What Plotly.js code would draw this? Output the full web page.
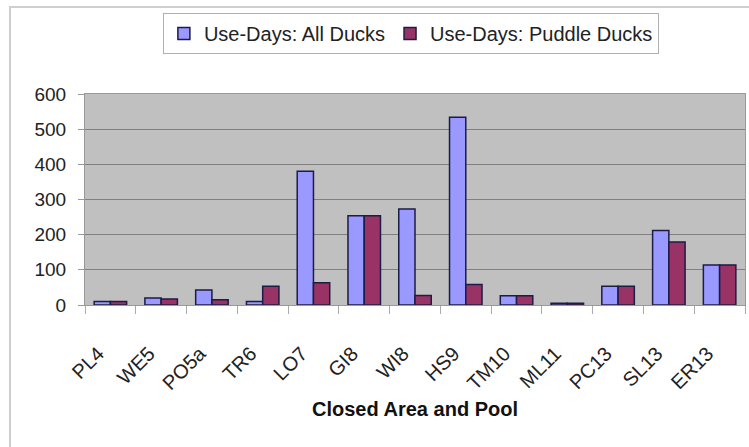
<!DOCTYPE html>
<html>
<head>
<meta charset="utf-8">
<script src="https://cdn.plot.ly/plotly-3.0.1.min.js"></script>
<style>
html,body{margin:0;padding:0;background:#fff;}
#chart{width:749px;height:447px;}
</style>
</head>
<body>
<div id="chart"></div>
<script>
const categories = ["PL4","WE5","PO5a","TR6","LO7","GI8","WI8","HS9","TM10","ML11","PC13","SL13","ER13"];
const allDucks = [10, 20, 43, 10, 380, 254, 273, 534, 26, 5, 53, 212, 114];
const puddleDucks = [10, 17, 15, 53, 63, 254, 27, 58, 26, 5, 53, 179, 114];
const yTicks = [0, 100, 200, 300, 400, 500, 600];

const traces = [
  {
    type: "bar", name: "Use-Days: All Ducks", x: categories, y: allDucks,
    marker: {color: "#9999ff", line: {color: "#1c1c44", width: 1.5}}
  },
  {
    type: "bar", name: "Use-Days: Puddle Ducks", x: categories, y: puddleDucks,
    marker: {color: "#993366", line: {color: "#1c1c44", width: 1.5}}
  }
];

const layout = {
  width: 749, height: 447,
  margin: {l: 85, r: 4, t: 94, b: 142},
  paper_bgcolor: "#ffffff",
  plot_bgcolor: "#c0c0c0",
  font: {family: "Liberation Sans, Arial, sans-serif", color: "#222", size: 18},
  barmode: "group",
  bargap: 0.36,
  bargroupgap: 0,
  showlegend: true,
  legend: {
    orientation: "h", x: 0.118, xanchor: "left", y: 1.384, yanchor: "top",
    bordercolor: "#b0b0b0", borderwidth: 1, bgcolor: "#ffffff",
    font: {size: 20, color: "#222"}, itemwidth: 30, traceorder: "normal"
  },
  xaxis: {
    type: "category",
    tickangle: -45,
    tickfont: {size: 20},
    ticks: "outside", tickson: "boundaries", ticklen: 8, tickcolor: "#aaa",
    ticklabelstandoff: 28,
    ticklabelshift: -12,
    showline: true, linecolor: "#999", mirror: true,
    title: {text: "Closed Area and Pool", font: {size: 20, color: "#111", weight: "bold"}, standoff: 8}
  },
  yaxis: {
    range: [0, 600], tickvals: yTicks, ticktext: yTicks.map(String),
    tickfont: {size: 19},
    ticks: "outside", ticklen: 6, tickcolor: "#999",
    ticklabelstandoff: 8,
    gridcolor: "#808080", gridwidth: 1,
    zeroline: false,
    showline: true, linecolor: "#999", mirror: true
  },
  shapes: [
    {type: "rect", xref: "paper", yref: "paper", x0: -0.1136, x1: 1.2, y0: -1, y1: 1.412,
     line: {color: "#cfcfcf", width: 2}, fillcolor: "rgba(0,0,0,0)", layer: "below"}
  ]
};

Plotly.newPlot("chart", traces, layout, {displayModeBar: false, staticPlot: true});
</script>
</body>
</html>
